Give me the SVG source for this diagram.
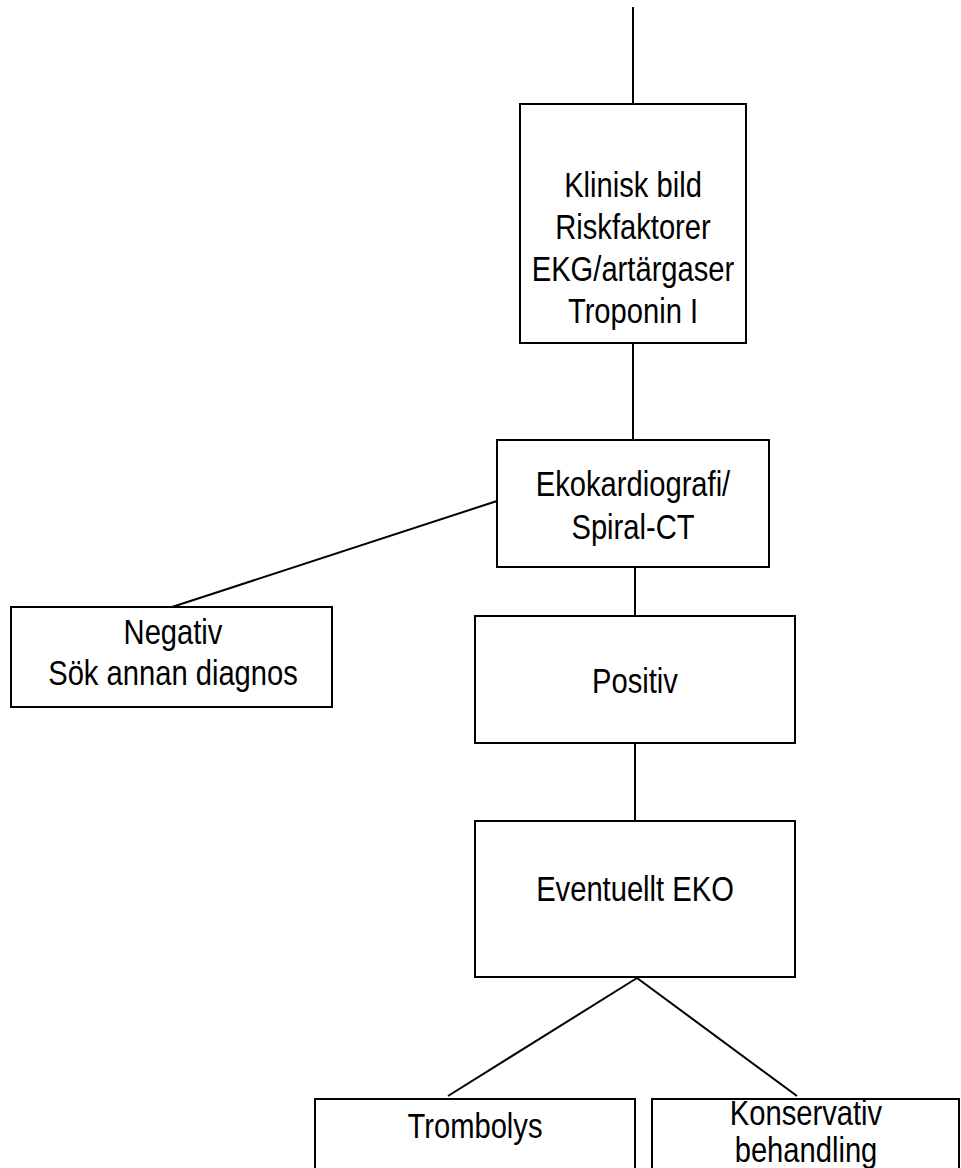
<svg xmlns="http://www.w3.org/2000/svg" width="961" height="1168" viewBox="0 0 961 1168">
<style>
.box{fill:#fff;stroke:#000;stroke-width:2}
.ln{stroke:#000;stroke-width:2;fill:none}
.t{font-family:"Liberation Sans Narrow","Liberation Sans",Arial,sans-serif;font-size:36px;fill:#000;text-anchor:middle}
</style>
<rect width="961" height="1168" fill="#fff"/>
<g id="connectors">
<line class="ln" x1="633" y1="7" x2="633" y2="104"/>
<line class="ln" x1="633" y1="343" x2="633" y2="440"/>
<line class="ln" x1="497" y1="501" x2="172" y2="607"/>
<line class="ln" x1="635" y1="567" x2="635" y2="616"/>
<line class="ln" x1="635" y1="743" x2="635" y2="821"/>
<line class="ln" x1="637" y1="978" x2="448" y2="1096"/>
<line class="ln" x1="637" y1="978" x2="797" y2="1096"/>
</g>
<g id="n-klinisk">
<rect class="box" x="520" y="104" width="226" height="239"/>
<text class="t" transform="translate(633 197) scale(0.81 1)">Klinisk bild</text>
<text class="t" transform="translate(633 239) scale(0.81 1)">Riskfaktorer</text>
<text class="t" transform="translate(633 281) scale(0.81 1)">EKG/artärgaser</text>
<text class="t" transform="translate(633 323) scale(0.81 1)">Troponin I</text>
</g>
<g id="n-eko">
<rect class="box" x="497" y="440" width="272" height="127"/>
<text class="t" transform="translate(633 496) scale(0.81 1)">Ekokardiografi/</text>
<text class="t" transform="translate(633 539) scale(0.81 1)">Spiral-CT</text>
</g>
<g id="n-negativ">
<rect class="box" x="11" y="607" width="321" height="100"/>
<text class="t" transform="translate(173 644) scale(0.81 1)">Negativ</text>
<text class="t" transform="translate(173 685) scale(0.81 1)">Sök annan diagnos</text>
</g>
<g id="n-positiv">
<rect class="box" x="475" y="616" width="320" height="127"/>
<text class="t" transform="translate(635 693) scale(0.81 1)">Positiv</text>
</g>
<g id="n-eventuellt">
<rect class="box" x="475" y="821" width="320" height="156"/>
<text class="t" transform="translate(635 901) scale(0.81 1)">Eventuellt EKO</text>
</g>
<g id="n-trombolys">
<rect class="box" x="315" y="1099" width="320" height="90"/>
<text class="t" transform="translate(475 1138) scale(0.81 1)">Trombolys</text>
</g>
<g id="n-konservativ">
<rect class="box" x="652" y="1099" width="307" height="90"/>
<text class="t" transform="translate(806 1125) scale(0.81 1)">Konservativ</text>
<text class="t" transform="translate(806 1162) scale(0.81 1)">behandling</text>
</g>
</svg>
